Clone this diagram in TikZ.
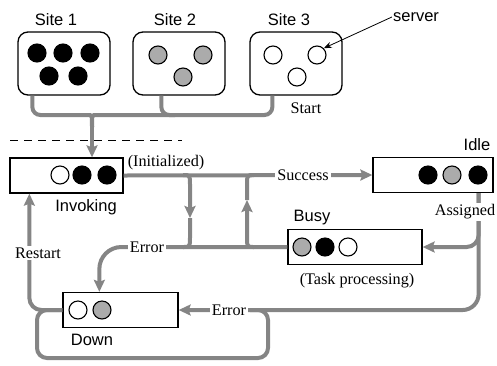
\documentclass[tikz,border=0pt]{standalone}
\usepackage{fontspec}
\setmainfont{Liberation Serif}
\setsansfont{Liberation Sans}
\usetikzlibrary{positioning,arrows.meta}
\definecolor{flowgray}{HTML}{858585}
\definecolor{srvgray}{HTML}{ABABAB}
\tikzset{
  sitebox/.style={
    draw, rounded corners=10pt, line width=1.3pt,
    minimum width=92pt, minimum height=63pt, inner sep=0pt
  },
  statebox/.style={
    draw, line width=1.3pt, inner sep=0pt, minimum height=35pt
  },
  srv/.style={
    circle, draw, fill=white, line width=1.1pt,
    minimum size=18pt, inner sep=0pt
  },
  srvon/.style={srv, fill=black},
  srvbusy/.style={srv, fill=srvgray},
  flow/.style={
    draw=flowgray, line width=4pt
  },
  flowarr/.style={
    flow, -{Stealth[length=12pt, width=11pt, inset=2pt]}
  },
  statelabel/.style={
    font=\sffamily\fontsize{16.5}{18}\selectfont, inner sep=1pt
  },
  evlabel/.style={
    font=\fontsize{16.2}{18}\selectfont, inner sep=2pt
  },
  evgap/.style={evlabel, fill=white}
}

\begin{document}
\begin{tikzpicture}[x=1pt, y=-1pt]
\useasboundingbox (0,0) rectangle (497,365);

% sites
\node[sitebox] (site1) at (64,63.5) {};
\node[sitebox] (site2) at (179,63.5) {};
\node[sitebox] (site3) at (296,63.5) {};
\node[statelabel] at (56,20) {Site 1};
\node[statelabel] at (175,20) {Site 2};
\node[statelabel] at (289,20) {Site 3};

% servers
\node[srvon] (s1a) at (37,53) {};
\node[srvon] (s1b) at (63,53) {};
\node[srvon] (s1c) at (90,53) {};
\node[srvon] (s1d) at (49,76) {};
\node[srvon] (s1e) at (78,76) {};
\node[srvbusy] (s2a) at (158,55) {};
\node[srvbusy] (s2b) at (203,55) {};
\node[srvbusy] (s2c) at (183,77) {};
\node[srv] (s3a) at (273,55) {};
\node[srv] (s3b) at (317,55) {};
\node[srv] (s3c) at (297,77) {};
\node[statelabel] (server) at (416,17) {server};
\draw[-{Stealth[length=8pt, width=6pt]}, line width=0.8pt] (server.west) -- (s3b.north east);
\node[evlabel] at (306,108) {Start};

% states
\node[statebox, minimum width=113pt] (invoke) at (66.5,175.5) {};
\node[statebox, minimum width=120pt] (idle) at (433,175) {};
\node[statebox, minimum width=134pt] (busy) at (355,247) {};
\node[statebox, minimum width=115pt] (down) at (120.5,310) {};

\node[srv] (i1) at (60,175) {};
\node[srvon] (i2) at (82,175) {};
\node[srvon] (i3) at (107,175) {};
\node[srvon] (d1) at (428,175) {};
\node[srvbusy] (d2) at (452,175) {};
\node[srvon] (d3) at (478,175) {};
\node[srvbusy] (b1) at (302,247) {};
\node[srvon] (b2) at (325,247) {};
\node[srv] (b3) at (348,247) {};
\node[srv] (w1) at (78,310) {};
\node[srvbusy] (w2) at (102,310) {};

\node[statelabel] at (86,207) {Invoking};
\node[statelabel] at (477,145) {Idle};
\node[statelabel] at (312,218) {Busy};
\node[statelabel] at (92,340) {Down};
\node[evlabel] at (166,163) {(Initialized)};
\node[evlabel] at (357,281) {(Task processing)};

\draw[dashed, dash pattern=on 8pt off 6pt, line width=1pt] (10,140) -- (182,140);

% junctions
\coordinate (brtip) at (92,127);
\coordinate (brl) at (80,115);
\coordinate (brr) at (104,115);
\coordinate (s2r) at (175,115);
\coordinate (v1t) at (183,175);
\coordinate (v1m) at (190,218);
\coordinate (v1b) at (183,247);
\coordinate (v2t) at (254,175);
\coordinate (v2m) at (247,200);
\coordinate (v2b) at (254,247);
\coordinate (idleout) at ([xshift=-15pt]idle.south east);
\coordinate (lpa) at (250,310);
\coordinate (lpb) at (268,358);
\coordinate (lpc) at (37,310);

% start
\draw[flow, rounded corners=8pt] ([xshift=15pt]site1.south west) |- (brl) .. controls (92,115) .. (brtip);
\draw[flow, rounded corners=8pt] ([xshift=23pt]site3.south west) |- (brr) .. controls (92,115) .. (brtip);
\draw[flow, rounded corners=8pt] ([xshift=29pt]site2.south west) |- (s2r);
\draw[flowarr] (brtip) -- (brtip |- invoke.north);

% success / error
\draw[flowarr] (invoke.east) -- (idle.west);
\draw[flowarr] (v1t) .. controls (190,175) .. (190,185) -- (v1m);
\draw[flow] (v1m) -- (190,237) .. controls (190,247) .. (v1b);
\draw[flowarr] (v2b) .. controls (247,247) .. (247,237) -- (v2m);
\draw[flow] (v2m) -- (247,185) .. controls (247,175) .. (v2t);
\draw[flowarr, rounded corners=22pt] (busy.west) -| ([xshift=37pt]down.north west);

% assigned
\draw[flowarr, rounded corners=12pt] (idleout) |- (busy.east);
\draw[flowarr, rounded corners=16pt] (idleout) |- (down.east);
\draw[flow, rounded corners=10pt] (lpa) -| (lpb) -| (lpc) -- (down.west);

% restart
\draw[flowarr, rounded corners=12pt] (down.west) -| ([xshift=20pt]invoke.south west);

% labels on lines
\node[evgap] at (303,175) {Success};
\node[evgap] at (147,247) {Error};
\node[evgap] at (229,310) {Error};
\node[evgap] at (465,212) {Assigned};
\node[evgap] at (38,253) {Restart};
\end{tikzpicture}
\end{document}
